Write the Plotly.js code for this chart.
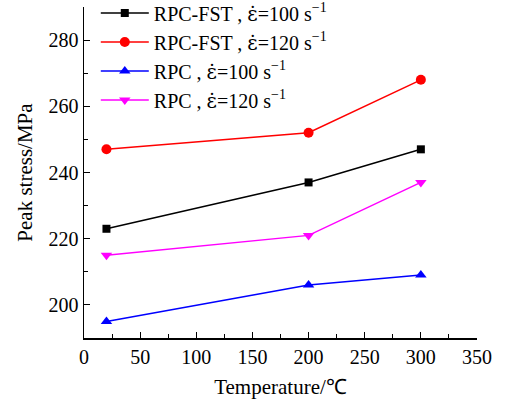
<!DOCTYPE html>
<html><head><meta charset="utf-8">
<script src="https://cdn.plot.ly/plotly-3.0.1.min.js"></script>
<style>body{margin:0;background:#fff}#c{width:508px;height:399px}</style>
</head><body><div id="c"></div>
<script>
const temps = [20, 200, 300];
const fst100 = [223, 237, 247];
const fst120 = [247, 252, 268];
const rpc100 = [195, 206, 209];
const rpc120 = [215, 221, 237];
const xTicks = [0, 50, 100, 150, 200, 250, 300, 350];
const yTicks = [200, 220, 240, 260, 280];
const eps = '<span style="font-family:DejaVu Serif">ε̇</span>';
const names = [
  'RPC-FST , ' + eps + '=100 s<sup>−1</sup>',
  'RPC-FST , ' + eps + '=120 s<sup>−1</sup>',
  'RPC , ' + eps + '=100 s<sup>−1</sup>',
  'RPC , ' + eps + '=120 s<sup>−1</sup>'
];
const series = [fst100, fst120, rpc100, rpc120];
const colors = ['#000000', '#ff0000', '#0000ff', '#ff00ff'];
const symbols = ['square', 'circle', 'triangle-up', 'triangle-down'];
const sizes = [8, 10, 10, 10];
const traces = series.map((s, i) => ({
  x: temps, y: s, name: names[i], type: 'scatter', mode: 'lines+markers',
  legendgroup: 'g' + i,
  line: {color: colors[i], width: 1.5},
  marker: {color: colors[i], symbol: symbols[i], size: sizes[i]}
}));
const fam = 'Liberation Serif';
const serifSpan = v => '<span style="font-family:Liberation Serif">' + v + '</span>';
const layout = {
  width: 508, height: 399,
  margin: {l: 84, r: 31, t: 7, b: 61, autoexpand: false},
  paper_bgcolor: '#fff', plot_bgcolor: '#fff',
  font: {family: fam, color: '#000', size: 20},
  showlegend: true,
  legend: {x: 0.03, y: 1.041, xanchor: 'left', yanchor: 'top', bgcolor: 'rgba(0,0,0,0)',
           itemwidth: 48,
           font: {family: fam, size: 20, color: '#000'}, tracegroupgap: 0},
  xaxis: {range: [0, 350], tickvals: xTicks, ticktext: xTicks.map(serifSpan),
          showgrid: false, zeroline: false,
          showline: true, linecolor: '#000', linewidth: 1.5,
          ticks: 'inside', ticklen: 6, tickcolor: '#000', tickwidth: 1,
          minor: {dtick: 25, ticks: 'inside', ticklen: 4, tickcolor: '#000'},
          tickfont: {family: fam, size: 20, color: '#000'},
          title: {text: 'Temperature/℃', font: {family: fam, size: 21, color: '#000'}}},
  yaxis: {range: [190, 290], tickvals: yTicks, ticktext: yTicks.map(serifSpan),
          showgrid: false, zeroline: false,
          showline: true, linecolor: '#000', linewidth: 1.5,
          ticks: 'inside', ticklen: 6, tickcolor: '#000', tickwidth: 1,
          minor: {tickvals: [190, 210, 230, 250, 270, 290], ticks: 'inside', ticklen: 4, tickcolor: '#000'},
          tickfont: {family: fam, size: 20, color: '#000'},
          title: {text: 'Peak stress/MPa', font: {family: fam, size: 21, color: '#000'}}}
};
Plotly.newPlot('c', traces, layout, {displayModeBar: false, staticPlot: true});
</script></body></html>
